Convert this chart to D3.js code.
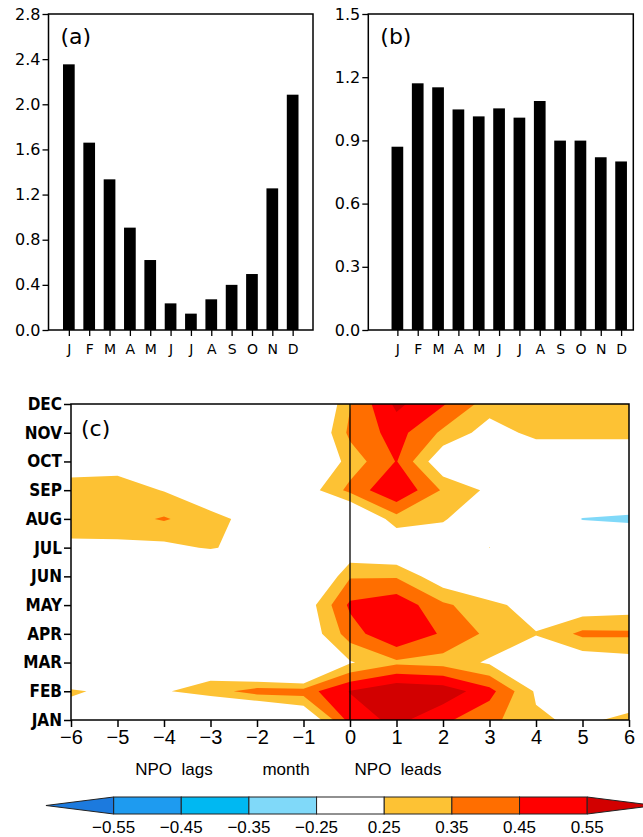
<!DOCTYPE html>
<html>
<head>
<meta charset="utf-8">
<script src="https://cdn.jsdelivr.net/npm/d3@7"></script>
<style>
  body { margin: 0; background: #fff; }
  svg { display: block; }
</style>
</head>
<body>
<svg id="chart" width="643" height="837"></svg>
<script>
// panel (a) and (b): monthly bars
const monthLetters = ["J", "F", "M", "A", "M", "J", "J", "A", "S", "O", "N", "D"];
const valuesA = [2.354, 1.66, 1.335, 0.907, 0.62, 0.236, 0.145, 0.272, 0.40, 0.496, 1.255, 2.085];
const valuesB = [0.87, 1.171, 1.152, 1.047, 1.014, 1.052, 1.008, 1.087, 0.899, 0.899, 0.82, 0.80];
const ticksA = [0, 0.4, 0.8, 1.2, 1.6, 2.0, 2.4, 2.8];
const ticksB = [0, 0.3, 0.6, 0.9, 1.2, 1.5];

// panel (c): lag correlation, rows = month (JAN..DEC), columns = lag -6..6
const lags = [-6, -5, -4, -3, -2, -1, 0, 1, 2, 3, 4, 5, 6];
const monthNames = ["JAN", "FEB", "MAR", "APR", "MAY", "JUN", "JUL", "AUG", "SEP", "OCT", "NOV", "DEC"];
const corrJAN = [0.207, 0.12, 0.10, 0.00, -0.05, 0.10, 0.49, 0.58, 0.47, 0.38, 0.267, 0.227, 0.28];
const corrFEB = [0.26, 0.23, 0.24, 0.30, 0.40, 0.40, 0.555, 0.64, 0.615, 0.485, 0.235, 0.20, 0.16];
const corrMAR = [0.117, 0.10, 0.10, 0.165, -0.055, -0.147, 0.24, 0.33, 0.31, 0.235, 0.17, 0.167, 0.20];
const corrAPR = [0.10, 0.10, 0.10, 0.10, 0.08, 0.15, 0.40, 0.55, 0.435, 0.326, 0.255, 0.375, 0.37];
const corrMAY = [0.05, 0.05, 0.05, 0.05, 0.05, 0.17, 0.47, 0.52, 0.37, 0.28, 0.20, 0.167, 0.19];
const corrJUN = [0.05, 0.05, 0.05, 0.05, 0.05, 0.00, 0.34, 0.34, 0.17, 0.10, 0.10, 0.10, 0.10];
const corrJUL = [0.217, 0.225, 0.22, 0.26, 0.20, 0.10, 0.15, 0.117, 0.10, 0.252, 0.10, 0.00, 0.05];
const corrAUG = [0.32, 0.31, 0.36, 0.29, 0.20, 0.10, 0.05, 0.3125, 0.27, 0.07, 0.00, -0.26, -0.30];
const corrSEP = [0.29, 0.30, 0.245, 0.15, 0.10, 0.18, 0.38, 0.545, 0.337, 0.228, 0.10, 0.05, 0.05];
const corrOCT = [0.20, 0.20, 0.12, 0.10, 0.05, 0.075, 0.291, 0.455, 0.155, 0.10, 0.15, 0.15, 0.15];
const corrNOV = [0.05, 0.05, 0.05, 0.05, 0.05, 0.065, 0.375, 0.49, 0.33, 0.20, 0.28, 0.28, 0.28];
const corrDEC = [0.05, 0.05, 0.05, 0.05, 0.05, 0.00, 0.343, 0.573, 0.46, 0.30, 0.32, 0.32, 0.32];

// colour bar
const levels = [-0.55, -0.45, -0.35, -0.25, 0.25, 0.35, 0.45, 0.55];
const levelColors = ["#1c7ade", "#1e9bf0", "#00b8f2", "#80d9f9", "#ffffff", "#fdc234", "#ff6e00", "#ff0000", "#d20000"];

const svg = d3.select("#chart");
const numFont = "'DejaVu Sans', sans-serif";
const gradsFont = "'Liberation Sans', Arial, sans-serif";

function barPanel(values, ticks, xScale, yScale, label) {
    const g = svg.append("g");
    const [x0, x1] = xScale.range();
    const [y0, y1] = yScale.range();
    const barW = 11.7;

    g.selectAll("rect.bar")
        .data(values)
        .enter().append("rect")
        .attr("class", "bar")
        .attr("x", (d, i) => xScale(i + 1) - barW / 2)
        .attr("width", barW)
        .attr("y", d => yScale(d))
        .attr("height", d => y0 - yScale(d))
        .attr("fill", "#000");

    const yAxis = g.append("g")
        .attr("transform", `translate(${x0},0)`)
        .call(d3.axisLeft(yScale).tickValues(ticks).tickSize(6).tickPadding(2).tickFormat(d3.format(".1f")));
    yAxis.select(".domain").remove();
    yAxis.selectAll("text").style("font-family", numFont).style("font-size", "16px").attr("fill", "#000");
    yAxis.selectAll("line").attr("stroke", "#000").attr("stroke-width", 1.3);

    const xAxis = g.append("g")
        .attr("transform", `translate(0,${y0})`)
        .call(d3.axisBottom(xScale).tickValues(d3.range(1, 13)).tickSize(6).tickPadding(8)
            .tickFormat(i => monthLetters[i - 1]));
    xAxis.select(".domain").remove();
    xAxis.selectAll("text").style("font-family", numFont).style("font-size", "14px").attr("fill", "#000");
    xAxis.selectAll("line").attr("stroke", "#000").attr("stroke-width", 1.3);

    g.append("rect")
        .attr("x", x0).attr("y", y1)
        .attr("width", x1 - x0).attr("height", y0 - y1)
        .attr("fill", "none").attr("stroke", "#000").attr("stroke-width", 1.5);

    g.append("text")
        .attr("x", x0 + 12).attr("y", y1 + 30)
        .style("font-family", numFont).style("font-size", "22px")
        .text(label);
}

// (a)
const xA = d3.scaleLinear().domain([0, 13]).range([48.5, 313]);
const yA = d3.scaleLinear().domain([0, 2.8]).range([330, 14]);
barPanel(valuesA, ticksA, xA, yA, "(a)");

// (b) bars sit a little to the right inside the frame
const xB = d3.scaleLinear().domain([-0.43, 12.6]).range([368.3, 633.3]);
const yB = d3.scaleLinear().domain([0, 1.5]).range([330, 14]);
barPanel(valuesB, ticksB, xB, yB, "(b)");

// (c) contour panel
const xC = d3.scaleLinear().domain([-6, 6]).range([71, 629]);
const yC = d3.scaleLinear().domain([0, 11]).range([720, 404]);
const grid = [corrJAN, corrFEB, corrMAR, corrAPR, corrMAY, corrJUN, corrJUL, corrAUG, corrSEP, corrOCT, corrNOV, corrDEC];
const nx = lags.length, ny = monthNames.length;
const values = grid.flat();

svg.append("defs").append("clipPath").attr("id", "clipC")
    .append("rect")
    .attr("x", xC(-6)).attr("y", yC(11))
    .attr("width", xC(6) - xC(-6)).attr("height", yC(0) - yC(11));

// d3.contours puts grid point i at coordinate i + 0.5
const toScreen = d3.geoTransform({
    point(x, y) { this.stream.point(xC(lags[0] + x - 0.5), yC(y - 0.5)); }
});
const cpath = d3.geoPath(toScreen);

const posLevels = levels.filter(l => l > 0);
const posColors = levelColors.slice(5);
const negColors = levelColors.slice(0, 4).reverse();

const contourGroup = svg.append("g").attr("clip-path", "url(#clipC)");

const posBands = d3.contours().size([nx, ny]).thresholds(posLevels)(values);
contourGroup.selectAll("path.pos")
    .data(posBands)
    .enter().append("path")
    .attr("class", "pos")
    .attr("d", cpath)
    .attr("fill", (d, i) => posColors[i]);

const negBands = d3.contours().size([nx, ny]).thresholds(posLevels)(values.map(v => -v));
contourGroup.selectAll("path.neg")
    .data(negBands)
    .enter().append("path")
    .attr("class", "neg")
    .attr("d", cpath)
    .attr("fill", (d, i) => negColors[i]);

// zero-lag line
svg.append("line")
    .attr("x1", xC(0)).attr("x2", xC(0))
    .attr("y1", yC(11)).attr("y2", yC(0))
    .attr("stroke", "#000").attr("stroke-width", 1.3);

const yAxisC = svg.append("g")
    .attr("transform", `translate(${xC(-6)},0)`)
    .call(d3.axisLeft(yC).tickValues(d3.range(0, 12)).tickSize(7).tickPadding(2)
        .tickFormat(i => monthNames[i]));
yAxisC.select(".domain").remove();
yAxisC.selectAll("text")
    .style("font-family", "'Liberation Sans Narrow', 'DejaVu Sans Condensed', 'Liberation Sans', sans-serif")
    .style("font-size", "17px").style("font-weight", "bold").attr("fill", "#000");
yAxisC.selectAll("line").attr("stroke", "#000").attr("stroke-width", 1.5);

const xAxisC = svg.append("g")
    .attr("transform", `translate(0,${yC(0)})`)
    .call(d3.axisBottom(xC).tickValues(lags).tickSize(7).tickPadding(3)
        .tickFormat(d => d < 0 ? "\u2212" + Math.abs(d) : String(d)));
xAxisC.select(".domain").remove();
xAxisC.selectAll("text").style("font-family", gradsFont).style("font-size", "20px").attr("fill", "#000");
xAxisC.selectAll("line").attr("stroke", "#000").attr("stroke-width", 1.5);

svg.append("rect")
    .attr("x", xC(-6)).attr("y", yC(11))
    .attr("width", xC(6) - xC(-6)).attr("height", yC(0) - yC(11))
    .attr("fill", "none").attr("stroke", "#000").attr("stroke-width", 1.5);

svg.append("text")
    .attr("x", 81).attr("y", 436)
    .style("font-family", numFont).style("font-size", "22px")
    .text("(c)");

const axisTitles = [
    { text: "NPO  lags", x: 174 },
    { text: "month", x: 286 },
    { text: "NPO  leads", x: 398 }
];
svg.selectAll("text.axis-title")
    .data(axisTitles)
    .enter().append("text")
    .attr("class", "axis-title")
    .attr("x", d => d.x).attr("y", 775)
    .attr("text-anchor", "middle")
    .style("font-family", gradsFont).style("font-size", "17px")
    .style("white-space", "pre")
    .text(d => d.text);

// colour bar
const cbTop = 797, cbBot = 814, cbMid = (cbTop + cbBot) / 2;
const xCb = d3.scaleLinear().domain([0, levels.length - 1]).range([113.6, 587.2]);
const cb = svg.append("g");
const boxes = d3.range(levels.length - 1);
cb.selectAll("rect")
    .data(boxes)
    .enter().append("rect")
    .attr("x", i => xCb(i)).attr("y", cbTop)
    .attr("width", i => xCb(i + 1) - xCb(i)).attr("height", cbBot - cbTop)
    .attr("fill", i => levelColors[i + 1])
    .attr("stroke", "#222").attr("stroke-width", 1);
const tipW = xCb(1) - xCb(0);
cb.append("path")
    .attr("d", `M${xCb(0)},${cbTop}L${xCb(0) - tipW},${cbMid}L${xCb(0)},${cbBot}Z`)
    .attr("fill", levelColors[0]).attr("stroke", "#222").attr("stroke-width", 1);
const last = levels.length - 1;
cb.append("path")
    .attr("d", `M${xCb(last)},${cbTop}L${xCb(last) + tipW},${cbMid}L${xCb(last)},${cbBot}Z`)
    .attr("fill", levelColors[levelColors.length - 1]).attr("stroke", "#222").attr("stroke-width", 1);
cb.selectAll("text")
    .data(levels)
    .enter().append("text")
    .attr("x", (d, i) => xCb(i)).attr("y", 833)
    .attr("text-anchor", "middle")
    .style("font-family", gradsFont).style("font-size", "17px")
    .text(d => (d < 0 ? "\u2212" : "") + Math.abs(d).toFixed(2));
</script>
</body>
</html>
